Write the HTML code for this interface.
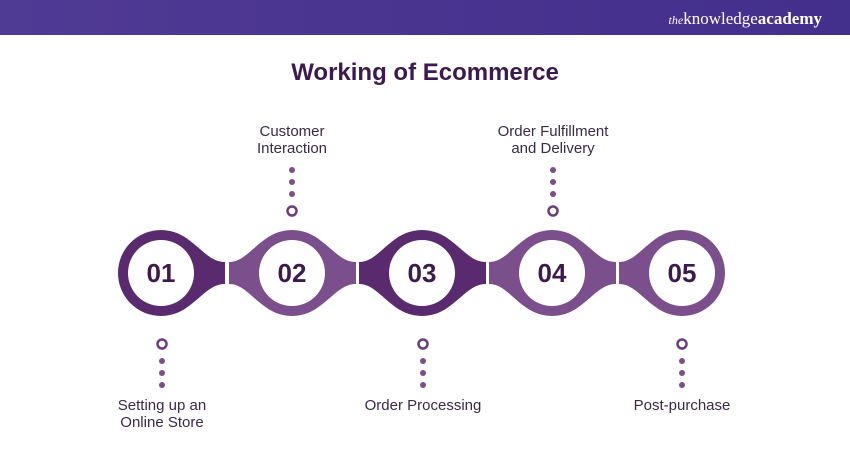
<!DOCTYPE html>
<html><head><style>
body{margin:0;width:850px;height:450px;background:#fff;overflow:hidden;font-family:"Liberation Sans",sans-serif;}
</style></head><body>
<svg width="850" height="450" xmlns="http://www.w3.org/2000/svg">
<defs><linearGradient id="hg" x1="0" x2="1"><stop offset="0" stop-color="#4f3a94"/><stop offset="1" stop-color="#432f8c"/></linearGradient></defs>
<rect x="0" y="0" width="850" height="35" fill="url(#hg)"/>
<text x="822" y="24" text-anchor="end" font-family="Liberation Serif,serif" font-size="17" fill="#fff"><tspan font-style="italic" font-size="12">the</tspan>knowledge<tspan font-weight="bold">academy</tspan></text>
<text x="425" y="80" text-anchor="middle" font-size="24" font-weight="bold" fill="#3d1a4d">Working of Ecommerce</text>
<g id="shapes"></g>
<g font-size="15" fill="#3a2a44" text-anchor="middle">
<text x="292" y="136">Customer</text><text x="292" y="153">Interaction</text>
<text x="553" y="136">Order Fulfillment</text><text x="553" y="153">and Delivery</text>
<text x="162" y="410">Setting up an</text><text x="162" y="427">Online Store</text>
<text x="423" y="410">Order Processing</text>
<text x="682" y="410">Post-purchase</text>
</g>
<g fill="#7a4f8a">
<circle cx="292" cy="170" r="3"/><circle cx="292" cy="182" r="3"/><circle cx="292" cy="194" r="3"/>
<circle cx="553" cy="170" r="3"/><circle cx="553" cy="182" r="3"/><circle cx="553" cy="194" r="3"/>
<circle cx="162" cy="361" r="3"/><circle cx="162" cy="373" r="3"/><circle cx="162" cy="385" r="3"/>
<circle cx="423" cy="361" r="3"/><circle cx="423" cy="373" r="3"/><circle cx="423" cy="385" r="3"/>
<circle cx="682" cy="361" r="3"/><circle cx="682" cy="373" r="3"/><circle cx="682" cy="385" r="3"/>
</g>
<g fill="none" stroke="#6a3f7c" stroke-width="2.5">
<circle cx="292" cy="211" r="4.5"/><circle cx="553" cy="211" r="4.5"/>
<circle cx="162" cy="344" r="4.5"/><circle cx="423" cy="344" r="4.5"/><circle cx="682" cy="344" r="4.5"/>
</g>
</svg>
<script>
var g=document.getElementById('shapes');var cy=273;
var cs=[[161,'#5a2a6e','01',0,1],[292,'#7a4f8c','02',1,1],[422,'#5a2a6e','03',1,1],[552,'#7a4f8c','04',1,1],[682,'#7a4f8c','05',1,0]];
var s='';
cs.forEach(function(c){var x=c[0],col=c[1];
s+='<circle cx="'+x+'" cy="'+cy+'" r="43" fill="'+col+'"/>';
if(c[4])s+='<path d="M'+(x+22)+','+(cy-37)+' C'+(x+40)+','+(cy-26)+' '+(x+48)+','+(cy-11)+' '+(x+64)+','+(cy-11)+' L'+(x+64)+','+(cy+11)+' C'+(x+48)+','+(cy+11)+' '+(x+40)+','+(cy+26)+' '+(x+22)+','+(cy+37)+' Z" fill="'+col+'"/>';
if(c[3])s+='<path d="M'+(x-22)+','+(cy-37)+' C'+(x-40)+','+(cy-26)+' '+(x-48)+','+(cy-11)+' '+(x-63)+','+(cy-11)+' L'+(x-63)+','+(cy+11)+' C'+(x-48)+','+(cy+11)+' '+(x-40)+','+(cy+26)+' '+(x-22)+','+(cy+37)+' Z" fill="'+col+'"/>';
s+='<circle cx="'+x+'" cy="'+cy+'" r="33" fill="#fff"/>';
s+='<text x="'+x+'" y="'+(cy+9)+'" text-anchor="middle" font-size="26" font-weight="bold" fill="#3d1a4d">'+c[2]+'</text>';});
g.innerHTML=s;
</script>
</body></html>
